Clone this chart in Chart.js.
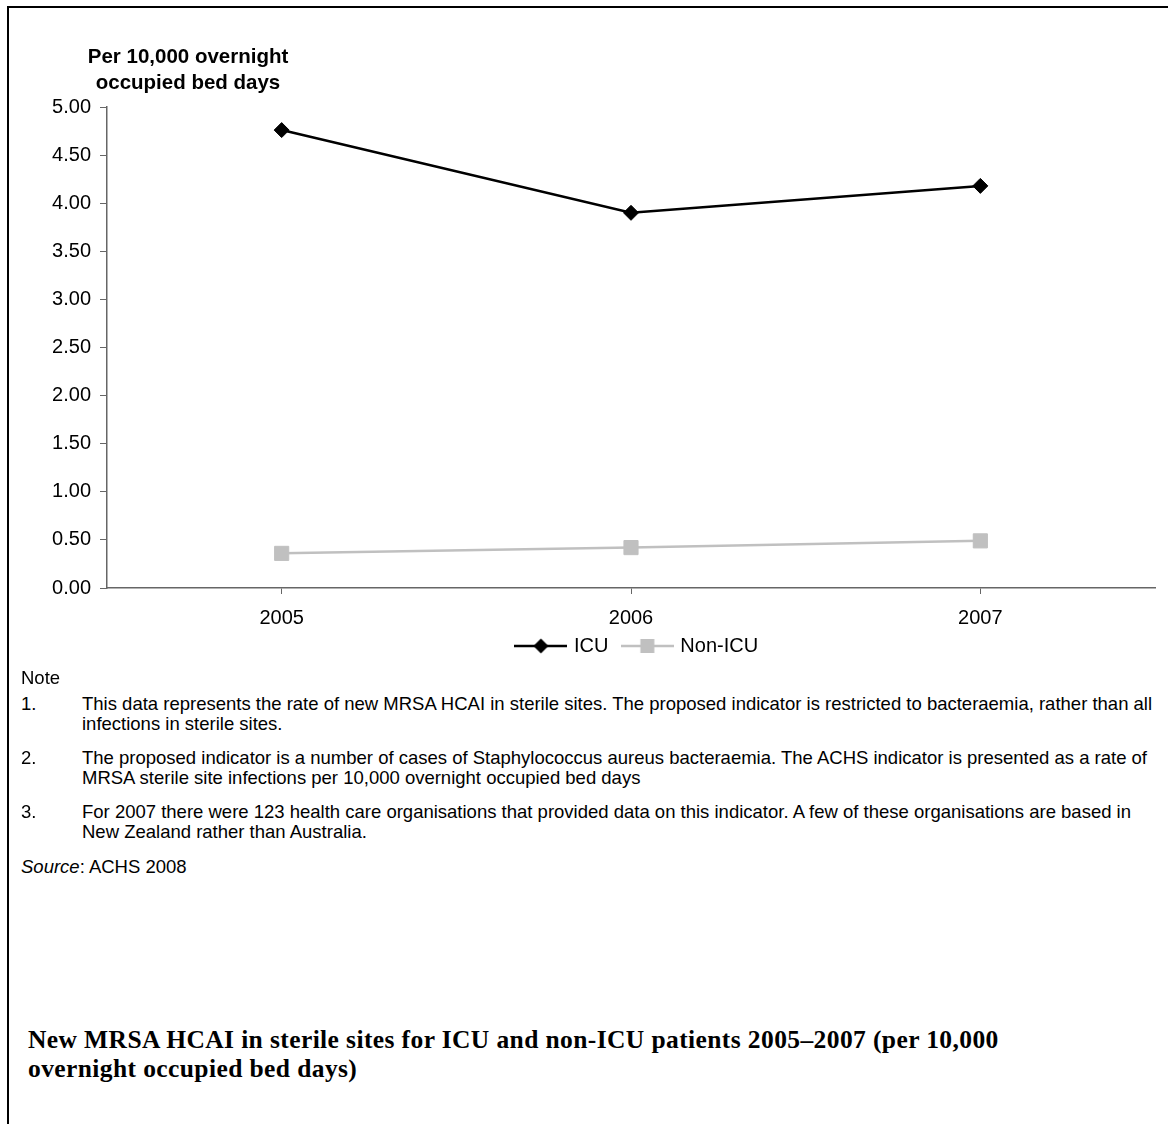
<!DOCTYPE html>
<html>
<head>
<meta charset="utf-8">
<script src="https://cdn.jsdelivr.net/npm/chart.js@4/dist/chart.umd.min.js"></script>
<style>
	body { margin: 0; background: #fff; }
	#page { position: relative; width: 1168px; height: 1124px; overflow: hidden; font-family: Arial, "Liberation Sans", sans-serif; color: #000; }
	#frame { position: absolute; left: 7px; top: 6px; width: 1170px; height: 1130px; border-left: 2px solid #000; border-top: 2px solid #000; }
	#chart-box { position: absolute; left: 0; top: 0; width: 1168px; height: 679px; }
	.txt { position: absolute; font-size: 18.5px; line-height: 20px; white-space: nowrap; }
	.num { left: 21px; }
	.body { left: 82px; }
	#caption { position: absolute; left: 28px; top: 1025px; font-family: "Liberation Serif", serif; font-weight: bold; font-size: 25.5px; letter-spacing: 0.4px; line-height: 29px; white-space: nowrap; }
</style>
</head>
<body>
<div id="page">
	<div id="frame"></div>
	<div id="chart-box"><canvas id="chart" width="1168" height="679"></canvas></div>

	<div class="txt num" style="top:668px">Note</div>

	<div class="txt num" style="top:694px">1.</div>
	<div class="txt body" style="top:694px">This data represents the rate of new MRSA HCAI in sterile sites. The proposed indicator is restricted to bacteraemia, rather than all<br>infections in sterile sites.</div>

	<div class="txt num" style="top:748px">2.</div>
	<div class="txt body" style="top:748px">The proposed indicator is a number of cases of Staphylococcus aureus bacteraemia. The ACHS indicator is presented as a rate of<br>MRSA sterile site infections per 10,000 overnight occupied bed days</div>

	<div class="txt num" style="top:802px">3.</div>
	<div class="txt body" style="top:802px">For 2007 there were 123 health care organisations that provided data on this indicator. A few of these organisations are based in<br>New Zealand rather than Australia.</div>

	<div class="txt num" style="top:857px"><i>Source</i>: ACHS 2008</div>

	<div id="caption">New MRSA HCAI in sterile sites for ICU and non-ICU patients 2005–2007 (per 10,000<br>overnight occupied bed days)</div>
</div>

<script>
const years = ["2005", "2006", "2007"];
const icu = [4.76, 3.9, 4.18];
const nonIcu = [0.36, 0.42, 0.49];
const yTitle = ["Per 10,000 overnight", "occupied bed days"];

// small line+marker swatch for the legend
function legendSwatch(color, shape) {
	const c = document.createElement("canvas");
	c.width = 53;
	c.height = 18;
	const g = c.getContext("2d");
	g.strokeStyle = color;
	g.lineWidth = 2.5;
	g.beginPath();
	g.moveTo(0, 9);
	g.lineTo(53, 9);
	g.stroke();
	g.fillStyle = color;
	g.beginPath();
	if (shape === "diamond") {
		g.moveTo(26.5, 1.5);
		g.lineTo(34, 9);
		g.lineTo(26.5, 16.5);
		g.lineTo(19, 9);
		g.closePath();
	} else {
		g.rect(19.5, 2, 14, 14);
	}
	g.fill();
	return c;
}

const axisTitlePlugin = {
	id: "axisTitle",
	afterLayout(chart) {
		// legend sits centred under the plot area and a bit closer to the year labels
		const lg = chart.legend;
		const shift = (chart.chartArea.left + chart.chartArea.right) / 2 - (lg.left + lg.right) / 2 + 7;
		lg.left += shift;
		lg.right += shift;
		lg.top -= 13;
		lg.bottom -= 13;
	},
	afterDraw(chart) {
		const ctx = chart.ctx;
		const x = chart.chartArea.left + 81;
		ctx.save();
		ctx.font = "bold 20.5px Arial";
		ctx.fillStyle = "#000";
		ctx.textAlign = "center";
		ctx.textBaseline = "middle";
		ctx.fillText(yTitle[0], x, chart.chartArea.top - 50);
		ctx.fillText(yTitle[1], x, chart.chartArea.top - 24);
		ctx.restore();
	},
};

const swatches = [legendSwatch("#000", "diamond"), legendSwatch("#c0c0c0", "square")];

new Chart(document.getElementById("chart"), {
	type: "line",
	data: {
		labels: years,
		datasets: [
			{
				label: "ICU",
				data: icu,
				borderColor: "#000",
				backgroundColor: "#000",
				borderWidth: 2.5,
				pointStyle: "rectRot",
				pointRadius: 7.5,
				pointBorderWidth: 1,
				tension: 0,
			},
			{
				label: "Non-ICU",
				data: nonIcu,
				borderColor: "#c0c0c0",
				backgroundColor: "#c0c0c0",
				borderWidth: 2.5,
				pointStyle: "rect",
				pointRadius: 10,
				pointBorderWidth: 1,
				tension: 0,
			},
		],
	},
	options: {
		responsive: false,
		animation: false,
		layout: { padding: { left: 10, right: 13, top: 107, bottom: 0 } },
		scales: {
			x: {
				offset: true,
				grid: { drawOnChartArea: false, drawTicks: true, tickLength: 6, color: "#666" },
				border: { color: "#666", width: 1.5 },
				ticks: { color: "#000", font: { family: "Arial", size: 20 }, padding: 12 },
				afterFit(scale) { scale.height = 45; },
			},
			y: {
				min: 0,
				max: 5,
				grid: { drawOnChartArea: false, drawTicks: true, tickLength: 7, color: "#666" },
				border: { color: "#666", width: 1.5 },
				ticks: {
					stepSize: 0.5,
					color: "#000",
					font: { family: "Arial", size: 20 },
					padding: 9,
					callback: (v) => Number(v).toFixed(2),
				},
				afterFit(scale) { scale.width = 97; },
			},
		},
		plugins: {
			tooltip: { enabled: false },
			legend: {
				position: "bottom",
				labels: {
					color: "#000",
					font: { family: "Arial", size: 20 },
					usePointStyle: true,
					pointStyleWidth: 46,
					padding: 16,
					generateLabels(chart) {
						return chart.data.datasets.map((ds, i) => ({
							text: ds.label,
							pointStyle: swatches[i],
							fillStyle: ds.backgroundColor,
							strokeStyle: ds.borderColor,
							lineWidth: 0,
							hidden: false,
							datasetIndex: i,
							fontColor: "#000",
						}));
					},
				},
			},
		},
	},
	plugins: [axisTitlePlugin],
});
</script>
</body>
</html>
